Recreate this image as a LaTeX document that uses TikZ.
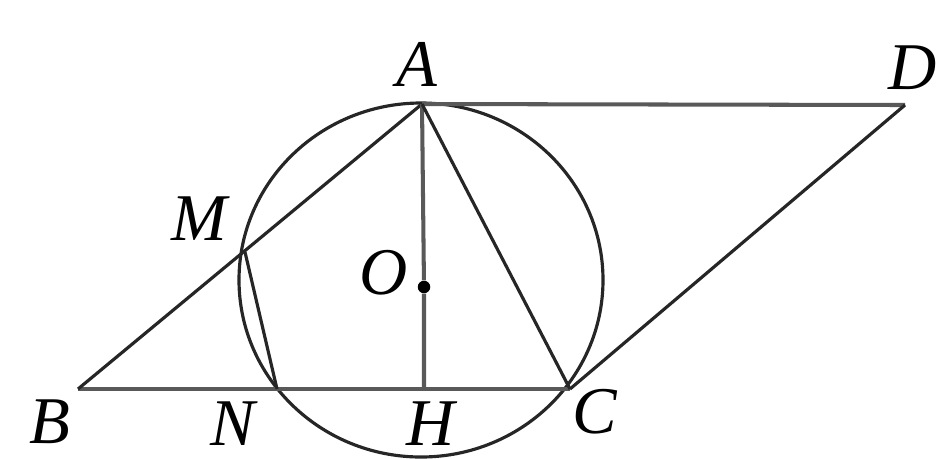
\documentclass[tikz,border=0pt]{standalone}
\usepackage{fontspec}
\setmainfont{Liberation Serif}
\usetikzlibrary{positioning}
\begin{document}
\begin{tikzpicture}[x=0.02cm,y=-0.02cm,
side/.style={line width=2.3pt, draw=black!65},
chord/.style={line width=1.8pt, draw=black!85},
lbl/.style={font=\fontsize{38}{44}\selectfont\itshape, inner sep=0pt}]
\useasboundingbox (0,0) rectangle (939,458);
% points
\coordinate (A) at (422,104);
\coordinate (D) at (905,105);
\coordinate (B) at (78,389);
\coordinate (C) at (570,389);
\coordinate (H) at (424,389);
\coordinate (N) at (277,389);
\coordinate (M) at (245,252);
\coordinate (Oc) at (421,280);
\node[circle, fill=black, inner sep=0pt, minimum size=0.25cm] (O) at (424,287) {};
% circle
\draw[chord] (Oc) ellipse [x radius=182, y radius=177];
% parallelogram
\draw[side] (A) -- (D);
\draw[side] (B) -- (C);
\draw[chord] (B) -- (A);
\draw[chord] (D) -- (C);
% inner segments
\draw[side] (A) -- (O) -- (H);
\draw[chord] (A) -- (C);
\draw[chord] (M) -- (N);
% labels
\node[lbl] (lA) at (417,64) {A};
\node[lbl] (lD) at (913,68) {D};
\node[lbl] (lM) at (199,219) {M};
\node[lbl] (lO) at (384,273) {O};
\node[lbl] (lB) at (50,422) {B};
\node[lbl] (lN) at (233,424) {N};
\node[lbl] (lH) at (431,424) {H};
\node[lbl] (lC) at (595,412) {C};
\end{tikzpicture}
\end{document}
